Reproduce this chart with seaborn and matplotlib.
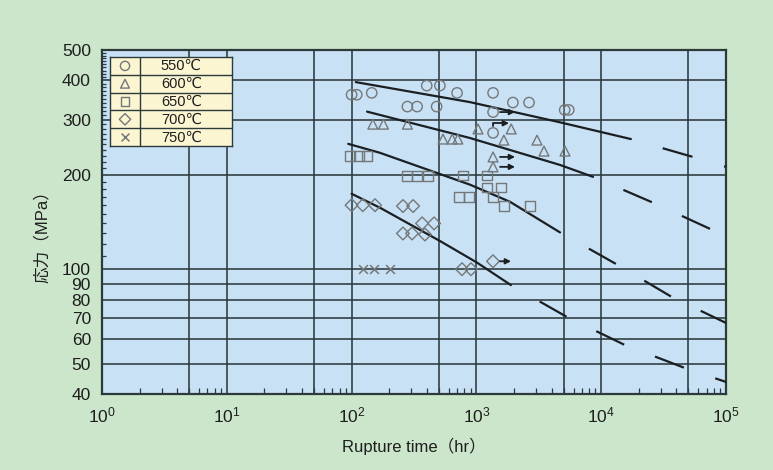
import numpy as np
import pandas as pd
import matplotlib
matplotlib.use("Agg")
import matplotlib.pyplot as plt
import seaborn as sns
from matplotlib.ticker import FixedLocator, FixedFormatter, LogLocator, NullFormatter

sns.set_theme(style="white")
plt.rcParams["font.family"] = ["Liberation Sans", "DejaVu Sans", "Noto Sans CJK JP"]
plt.rcParams["mathtext.fontset"] = "custom"
plt.rcParams["mathtext.rm"] = "Liberation Sans"
plt.rcParams["lines.scale_dashes"] = False

# ---- creep rupture results: rupture time (hr) and stress (MPa) ----
temps = ["550℃", "600℃", "650℃", "700℃", "750℃"]
markers = ["o", "^", "s", "D", "x"]
marker_sizes = [55, 50, 48, 42, 40]

t550 = [100, 110, 145, 280, 335, 480, 400, 510, 700, 1360, 1360, 1360, 1960, 2640, 5100, 5500]
s550 = [360, 360, 365, 330, 330, 330, 385, 385, 365, 365, 317, 272, 340, 340, 322, 322]

t600 = [148, 180, 280, 540, 640, 710, 1030, 1900, 1660, 3060, 3480, 5130, 1360, 1360]
s600 = [290, 290, 290, 260, 260, 260, 280, 280, 258, 258, 238, 238, 228, 212]

t650 = [97, 115, 133, 278, 334, 409, 781, 1217, 1217, 1575, 726, 873, 1358, 1664, 2690]
s650 = [230, 230, 230, 198, 198, 198, 199, 199, 182, 182, 170, 170, 170, 159, 159]

t700 = [100, 123, 154, 258, 311, 367, 458, 258, 305, 387, 767, 905, 1358]
s700 = [160, 160, 160, 159, 159, 140, 140, 130, 130, 129, 100, 100, 106]

t750 = [123, 150, 203]
s750 = [100, 100, 100]

# unbroken specimens (start time, stress, arrow end time)
runout_t = [1360, 1360, 1360, 1358]
runout_s = [317, 228, 212, 106]
runout_end = [2040, 2040, 2040, 1894]

# master rupture curves: fitted range and extrapolated range
fit550_t = [108, 889, 4680, 17300]
fit550_s = [395, 341, 294, 260]
ext550_t = [17300, 54400, 100000]
ext550_s = [260, 228, 212]

fit600_t = [133, 889, 4680, 8600]
fit600_s = [318, 262, 215, 197]
ext600_t = [8600, 26000, 75900, 100000]
ext600_s = [197, 163, 134, 128]

fit650_t = [94, 169, 889, 1860, 4680]
fit650_s = [251, 235, 186, 164, 131]
ext650_t = [4680, 13100, 36900, 100000]
ext650_s = [131, 104, 81.5, 67.4]

fit700_t = [100, 169, 511, 1010, 1890]
fit700_s = [174, 157, 123, 105, 89]
ext700_t = [1890, 5320, 15500, 46900, 100000]
ext700_s = [89, 70.4, 57.3, 48.4, 43.7]

x_ticks = [1, 10, 100, 1000, 10000, 100000]
x_labels = [r"$\mathregular{10^{%d}}$" % i for i in range(6)]
y_ticks = [40, 50, 60, 70, 80, 90, 100, 200, 300, 400, 500]
x_grid = [5, 10, 50, 100, 500, 1000, 5000, 10000, 50000]
y_grid = [50, 60, 70, 80, 90, 100, 200, 300, 400]

series = [(t550, s550), (t600, s600), (t650, s650), (t700, s700), (t750, s750)]
fits = [(fit550_t, fit550_s), (fit600_t, fit600_s), (fit650_t, fit650_s), (fit700_t, fit700_s)]
exts = [(ext550_t, ext550_s), (ext600_t, ext600_s), (ext650_t, ext650_s), (ext700_t, ext700_s)]

# ---- styling ----
fig_bg = "#cbe6cb"
ax_bg = "#c8e1f5"
grid_c = "#2c3a3c"
mark_c = "#747879"
line_c = "#1b1f22"
text_c = "#1e1e1e"

fig = plt.figure(figsize=(7.73, 4.70), dpi=100, facecolor=fig_bg)
ax = fig.add_axes([102 / 773, (470 - 394) / 470, 624 / 773, 344 / 470])
ax.set_facecolor(ax_bg)
ax.set_xscale("log")
ax.set_yscale("log")
ax.set_xlim(1, 1e5)
ax.set_ylim(40, 500)

for gx in x_grid:
    ax.axvline(gx, color=grid_c, lw=1.15, zorder=1)
for gy in y_grid:
    ax.axhline(gy, color=grid_c, lw=1.15, zorder=1)

# rupture curves: solid over test range, dashed extrapolation
on_pt, off_pt = 22.3, 23.8
for (ft, fs), (et, es) in zip(fits, exts):
    sns.lineplot(x=ft, y=fs, ax=ax, color=line_c, lw=1.6, sort=False,
                 estimator=None, zorder=3)
    sns.lineplot(x=et, y=es, ax=ax, color=line_c, lw=1.6, sort=False,
                 estimator=None, zorder=3, linestyle=(on_pt, (on_pt, off_pt)))

# test points
for (tt, ss), m, ms in zip(series, markers, marker_sizes):
    df = pd.DataFrame({"t": tt, "s": ss})
    if m == "x":
        sns.scatterplot(data=df, x="t", y="s", marker=m, s=ms, color=mark_c,
                        linewidth=1.1, ax=ax, zorder=4)
    else:
        sns.scatterplot(data=df, x="t", y="s", marker=m, s=ms, color=mark_c,
                        facecolor="none", edgecolor=mark_c, linewidth=1.0,
                        ax=ax, zorder=4)

# arrows for specimens still running
for t0, s0, t1 in zip(runout_t, runout_s, runout_end):
    ax.annotate("", xy=(t1, s0), xytext=(t0, s0),
                arrowprops=dict(arrowstyle="-|>", color=line_c, lw=1.3,
                                shrinkA=5, shrinkB=0, mutation_scale=8),
                zorder=5)
ax.annotate("", xy=(1824, 292), xytext=(1360, 272),
            arrowprops=dict(arrowstyle="-|>", color=line_c, lw=1.3,
                            shrinkA=5, shrinkB=0, mutation_scale=8,
                            connectionstyle="angle,angleA=90,angleB=0,rad=0"),
            zorder=5)

# axes, ticks and labels
ax.xaxis.set_major_locator(FixedLocator(x_ticks))
ax.xaxis.set_major_formatter(FixedFormatter(x_labels))
ax.xaxis.set_minor_locator(LogLocator(base=10, subs=np.arange(2, 10)))
ax.xaxis.set_minor_formatter(NullFormatter())
ax.yaxis.set_major_locator(FixedLocator(y_ticks))
ax.yaxis.set_major_formatter(FixedFormatter([str(v) for v in y_ticks]))
ax.yaxis.set_minor_locator(FixedLocator(
    [v for v in range(110, 500, 10) if v not in (200, 300, 400)]))
ax.yaxis.set_minor_formatter(NullFormatter())
ax.tick_params(axis="both", which="major", length=0, labelsize=12.5,
               colors=text_c, pad=8)
ax.tick_params(axis="x", which="minor", direction="in", length=4,
               width=0.9, color=grid_c, bottom=True)
ax.tick_params(axis="y", which="minor", direction="in", length=3,
               width=0.9, color=grid_c, left=True)
for sp in ax.spines.values():
    sp.set_visible(True)
    sp.set_color(grid_c)
    sp.set_linewidth(1.6)

ax.set_xlabel("Rupture time（hr）", fontsize=12, color=text_c, labelpad=9)
ax.set_ylabel("応力（MPa）", fontsize=12, color=text_c)
ax.yaxis.set_label_coords(-0.083, 0.47)

# temperature key
lg = fig.add_axes([110 / 773, (470 - 146) / 470, 122 / 773, 89 / 470])
lg.set_facecolor("#fbf5d2")
lg.set_xlim(0, 1)
lg.set_ylim(len(temps), 0)
lg.set_xticks([])
lg.set_yticks([])
for sp in lg.spines.values():
    sp.set_color(grid_c)
    sp.set_linewidth(1.0)
lg.axvline(0.246, color=grid_c, lw=1.0)
for r in range(1, len(temps)):
    lg.axhline(r, color=grid_c, lw=1.0)
for r, (lab, m, ms) in enumerate(zip(temps, markers, marker_sizes)):
    if m == "x":
        lg.scatter([0.123], [r + 0.5], marker=m, s=ms * 0.8, color=mark_c, lw=1.1)
    else:
        lg.scatter([0.123], [r + 0.5], marker=m, s=ms * 0.8, facecolor="none",
                   edgecolor=mark_c, lw=1.0)
    lg.text(0.585, r + 0.52, lab, ha="center", va="center", fontsize=10.5,
            color=text_c)

fig.savefig("out.png", dpi=100, facecolor=fig_bg)
